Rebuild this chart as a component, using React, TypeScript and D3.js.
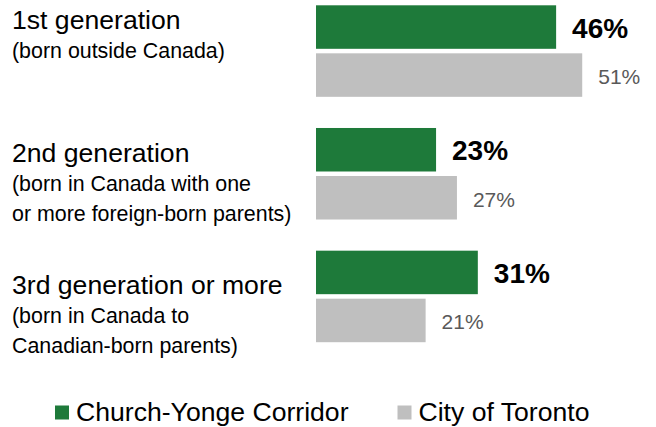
import React from "react";
import * as d3 from "d3";

const categories = ["1st generation", "2nd generation", "3rd generation or more"];
const subLabels = [
  ["(born outside Canada)"],
  ["(born in Canada with one", "or more foreign-born parents)"],
  ["(born in Canada to", "Canadian-born parents)"],
];
const series = ["Church-Yonge Corridor", "City of Toronto"];
const churchYonge = [46, 23, 31];
const toronto = [51, 27, 21];

const colors = ["#1e7a3a", "#bfbfbf"];
const font = "'Liberation Sans', Arial, sans-serif";

export default function App() {
  const width = 656;
  const height = 427;

  const x = d3.scaleLinear().domain([0, 100]).range([316, 838]);
  const y = d3.scaleBand().domain(categories).range([5.3, 342.2]).paddingInner(0.254);
  const ys = d3.scaleBand().domain(series).range([0, y.bandwidth()]).paddingInner(0.094);

  const values = [churchYonge, toronto];
  // text blocks drift down a bit relative to bars
  const titleOffset = [24, 34, 43];

  return (
    <svg
      width={width}
      height={height}
      style={{ position: "absolute", left: 0, top: 0, background: "#fff" }}
      fontFamily={font}
    >
      {categories.map((c, i) => {
        const top = y(c)!;
        const tb = top + titleOffset[i];
        return (
          <g key={c}>
            <text x={12} y={tb} fontSize={26.6} fill="#000">
              {c}
            </text>
            {subLabels[i].map((s, j) => (
              <text key={s} x={12} y={tb + 29 + j * 30} fontSize={21.4} fill="#000">
                {s}
              </text>
            ))}
            {series.map((s, k) => {
              const v = values[k][i];
              const by = top + ys(s)!;
              const bh = ys.bandwidth();
              return (
                <g key={s}>
                  <rect x={x(0)} y={by} width={x(v) - x(0)} height={bh} fill={colors[k]} />
                  <text
                    x={x(v) + 16}
                    y={by + bh / 2 + (k === 0 ? 10.5 : 9)}
                    fontSize={k === 0 ? 28 : 21}
                    fontWeight={k === 0 ? "bold" : "normal"}
                    fill={k === 0 ? "#000" : "#595959"}
                  >
                    {v}%
                  </text>
                </g>
              );
            })}
          </g>
        );
      })}

      {/* legend */}
      {series.map((s, k) => {
        const lx = [55, 397.5][k];
        return (
          <g key={s}>
            <rect x={lx} y={405.5} width={14} height={14} fill={colors[k]} />
            <text x={lx + 21} y={421} fontSize={26.6} fill="#000">
              {s}
            </text>
          </g>
        );
      })}
    </svg>
  );
}
